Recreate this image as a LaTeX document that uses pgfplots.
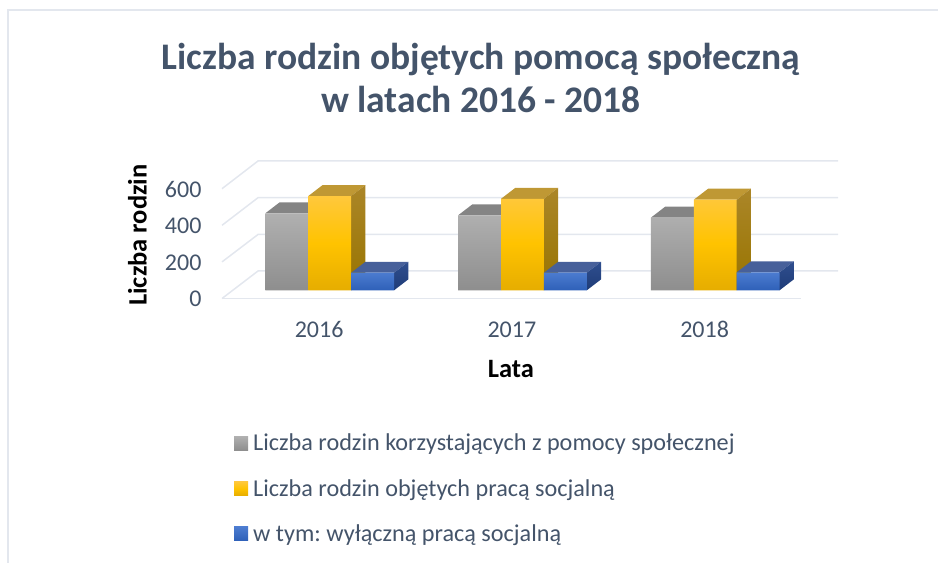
\documentclass[border=0pt]{standalone}
\usepackage{fontspec}
\setmainfont{Carlito}
\usepackage{pgfplots}
\pgfplotsset{compat=1.18}
\definecolor{txt}{HTML}{44546A}
\definecolor{gridc}{HTML}{E3E7EE}
\definecolor{gyT}{HTML}{B0B0B0}
\definecolor{gyB}{HTML}{8E8E8E}
\definecolor{gyTop}{HTML}{848484}
\definecolor{gdT}{HTML}{FFC83C}
\definecolor{gdM}{HTML}{FFC300}
\definecolor{gdB}{HTML}{E6AD00}
\definecolor{gdTop}{HTML}{BF9834}
\definecolor{gdSideT}{HTML}{AB8628}
\definecolor{gdSideB}{HTML}{987400}
\definecolor{blT}{HTML}{4C7CD0}
\definecolor{blB}{HTML}{2E60B8}
\definecolor{blTop}{HTML}{47609A}
\definecolor{blSideT}{HTML}{2F4E8E}
\definecolor{blSideB}{HTML}{1F3C78}
\frenchspacing
\begin{document}
\begin{tikzpicture}[x=1pt,y=1pt]
\path[use as bounding box] (0,0) rectangle (938,563);
\draw[gridc,line width=1.5pt] (8,0) -- (8,553) -- (938,553);
\begin{axis}[
  at={(222pt,264.5pt)}, anchor=south west,
  scale only axis, width=616pt, height=137.5pt,
  xmin=-0.5588, xmax=2.637, ymin=-44.8, ymax=706.6,
  axis lines*=left, axis line style={draw=none}, major tick length=0pt, clip=false,
  bar width=0.2225,
  xtick={-0.055,0.945,1.945}, xticklabels={2016,2017,2018},
  ytick={-44.8,155.2,355.2,555.2}, yticklabels={0,200,400,600},
  tick label style={text=txt, font=\fontsize{24}{28}\selectfont},
  xticklabel style={yshift=-19pt, text height=16pt, text depth=0pt},
  yticklabel style={xshift=-17pt, yshift=-0.5pt},
  title={Liczba rodzin objętych pomocą społeczną\\w latach 2016 - 2018},
  title style={at={(axis cs:0.785,706.6)}, anchor=south, yshift=38.5pt, align=center,
    text=txt, font=\fontsize{37.5}{43}\selectfont\bfseries},
  xlabel={Lata}, ylabel={Liczba rodzin},
  xlabel style={at={(axis cs:0.94,-430)}, anchor=center, text=black,
    font=\fontsize{26.5}{30}\selectfont\bfseries},
  ylabel style={at={(axis cs:-0.998,302)}, anchor=center, text=black,
    font=\fontsize{26.5}{30}\selectfont\bfseries},
  legend style={at={(axis cs:-0.4965,-774)}, anchor=north west, draw=none, fill=none,
    text=txt, font=\fontsize{24.2}{28}\selectfont, row sep=23pt, inner sep=0pt,
    legend cell align=left},
]
% floor and walls
\draw[gridc,line width=1.5pt] (axis cs:-0.5588,-44.8) -- (axis cs:2.445,-44.8);
\draw[gridc,line width=1.5pt] (axis cs:-0.5588,-44.8) -- (axis cs:-0.372,105.5) -- (axis cs:2.637,105.5);
\draw[gridc,line width=1.5pt] (axis cs:-0.5588,155.2) -- (axis cs:-0.372,305) -- (axis cs:2.637,305);
\draw[gridc,line width=1.5pt] (axis cs:-0.5588,355.2) -- (axis cs:-0.372,506) -- (axis cs:2.637,506);
\draw[gridc,line width=1.5pt] (axis cs:-0.5588,555.2) -- (axis cs:-0.372,706.6) -- (axis cs:2.637,706.6);

% gray
\addplot[forget plot, fill=gyTop, draw=none] coordinates {(-0.3337,421)(-0.1112,421)(-0.0370,481)(-0.2595,481)};
\addplot[forget plot, fill=gyTop, draw=none] coordinates {(0.6663,410)(0.8888,410)(0.9630,470)(0.7405,470)};
\addplot[forget plot, fill=gyTop, draw=none] coordinates {(1.6663,397)(1.8888,397)(1.9630,457)(1.7405,457)};
\addplot[ybar, bar shift=-0.2225, draw=none, top color=gyT, bottom color=gyB,
  legend image code/.code={\shade[top color=gyT,bottom color=gyB] (0pt,-7pt) rectangle (14pt,7pt);\path (0pt,0pt) -- (17pt,0pt);}]
  coordinates {(0,421)(1,410)(2,397)};
\addlegendentry{Liczba rodzin korzystających z pomocy społecznej}

% gold
\addplot[forget plot, fill=gdTop, draw=none] coordinates {(-0.1112,515)(0.1113,515)(0.1855,575)(-0.0370,575)};
\addplot[forget plot, fill=gdTop, draw=none] coordinates {(0.8888,500)(1.1113,500)(1.1855,560)(0.9630,560)};
\addplot[forget plot, fill=gdTop, draw=none] coordinates {(1.8888,495)(2.1113,495)(2.1855,555)(1.9630,555)};
\addplot[forget plot, top color=gdSideT, bottom color=gdSideB, draw=none] coordinates {(0.1113,0)(0.1113,515)(0.1855,575)(0.1855,60)};
\addplot[forget plot, top color=gdSideT, bottom color=gdSideB, draw=none] coordinates {(1.1113,0)(1.1113,500)(1.1855,560)(1.1855,60)};
\addplot[forget plot, top color=gdSideT, bottom color=gdSideB, draw=none] coordinates {(2.1113,0)(2.1113,495)(2.1855,555)(2.1855,60)};
\addplot[ybar, bar shift=0, draw=none, top color=gdT, bottom color=gdB, middle color=gdM,
  legend image code/.code={\shade[top color=gdT,bottom color=gdB,middle color=gdM] (0pt,-7pt) rectangle (14pt,7pt);\path (0pt,0pt) -- (17pt,0pt);}]
  coordinates {(0,515)(1,500)(2,495)};
\addlegendentry{Liczba rodzin objętych pracą socjalną}

% blue
\addplot[forget plot, fill=blTop, draw=none] coordinates {(0.1113,96)(0.3338,96)(0.4080,156)(0.1855,156)};
\addplot[forget plot, fill=blTop, draw=none] coordinates {(1.1113,96)(1.3338,96)(1.4080,156)(1.1855,156)};
\addplot[forget plot, fill=blTop, draw=none] coordinates {(2.1113,98)(2.3338,98)(2.4080,158)(2.1855,158)};
\addplot[forget plot, top color=blSideT, bottom color=blSideB, draw=none] coordinates {(0.3338,0)(0.3338,96)(0.4080,156)(0.4080,60)};
\addplot[forget plot, top color=blSideT, bottom color=blSideB, draw=none] coordinates {(1.3338,0)(1.3338,96)(1.4080,156)(1.4080,60)};
\addplot[forget plot, top color=blSideT, bottom color=blSideB, draw=none] coordinates {(2.3338,0)(2.3338,98)(2.4080,158)(2.4080,60)};
\addplot[ybar, bar shift=0.2225, draw=none, top color=blT, bottom color=blB,
  legend image code/.code={\shade[top color=blT,bottom color=blB] (0pt,-7pt) rectangle (14pt,7pt);\path (0pt,0pt) -- (17pt,0pt);}]
  coordinates {(0,96)(1,96)(2,98)};
\addlegendentry{w tym: wyłączną pracą socjalną}
\end{axis}
\end{tikzpicture}
\end{document}
